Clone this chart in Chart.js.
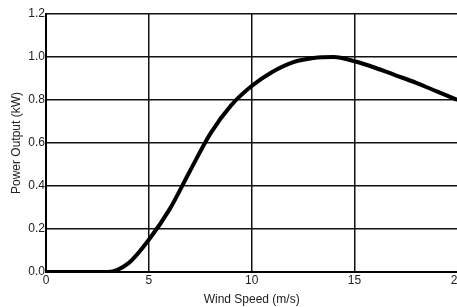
<!DOCTYPE html>
<html>
<head>
<meta charset="utf-8">
<script src="https://cdn.jsdelivr.net/npm/chart.js@4"></script>
<style>
  html, body { margin: 0; padding: 0; background: #fff; overflow: hidden; }
  #wrap { width: 465px; height: 307px; }
</style>
</head>
<body>
<div id="wrap"><canvas id="chart" width="465" height="307"></canvas></div>
<script>
// power curve
const windSpeed = [0, 1, 2, 3, 4, 5, 6, 7, 8, 9, 10, 11, 12, 13, 14, 15, 16, 17, 18, 19, 20];
const powerKw = [0, 0, 0, 0, 0.04, 0.15, 0.29, 0.47, 0.645, 0.775, 0.865, 0.93, 0.975, 0.995, 1.0, 0.98, 0.95, 0.915, 0.88, 0.84, 0.8];
const xTicks = [0, 5, 10, 15, 20];
const yTicks = [0, 0.2, 0.4, 0.6, 0.8, 1.0, 1.2];

const tickFont = { family: '"Liberation Sans", Arial, sans-serif', size: 12 };
const gridStyle = { color: '#111', lineWidth: 1.5, drawTicks: false };

const chart = new Chart(document.getElementById('chart'), {
  type: 'line',
  data: {
    datasets: [{
      data: windSpeed.map((x, i) => ({ x, y: powerKw[i] })),
      borderColor: '#000',
      borderWidth: 4,
      pointRadius: 0,
      cubicInterpolationMode: 'monotone',
      fill: false,
    }],
  },
  options: {
    responsive: false,
    animation: false,
    layout: { padding: { top: 14, right: 3, left: 0, bottom: 0 } },
    plugins: { legend: { display: false }, tooltip: { enabled: false } },
    scales: {
      x: {
        type: 'linear',
        min: 0,
        max: 20,
        afterBuildTicks(scale) { scale.ticks = xTicks.map((v) => ({ value: v })); },
        afterFit(scale) { scale.height = 35; },
        grid: gridStyle,
        border: { color: '#000', width: 2 },
        ticks: { font: tickFont, color: '#222', padding: 1, maxRotation: 0 },
        title: { display: true, text: 'Wind Speed (m/s)', font: tickFont, color: '#222', padding: { top: 0, bottom: 0 } },
      },
      y: {
        min: 0,
        max: 1.2,
        afterBuildTicks(scale) { scale.ticks = yTicks.map((v) => ({ value: v })); },
        afterFit(scale) { scale.width = 46; },
        grid: gridStyle,
        border: { color: '#000', width: 2 },
        ticks: { font: tickFont, color: '#222', padding: 1, callback(val) { return val.toFixed(1); } },
        title: { display: true, text: 'Power Output (kW)', font: tickFont, color: '#222', padding: { top: 9, bottom: 0 } },
      },
    },
  },
});
</script>
</body>
</html>
